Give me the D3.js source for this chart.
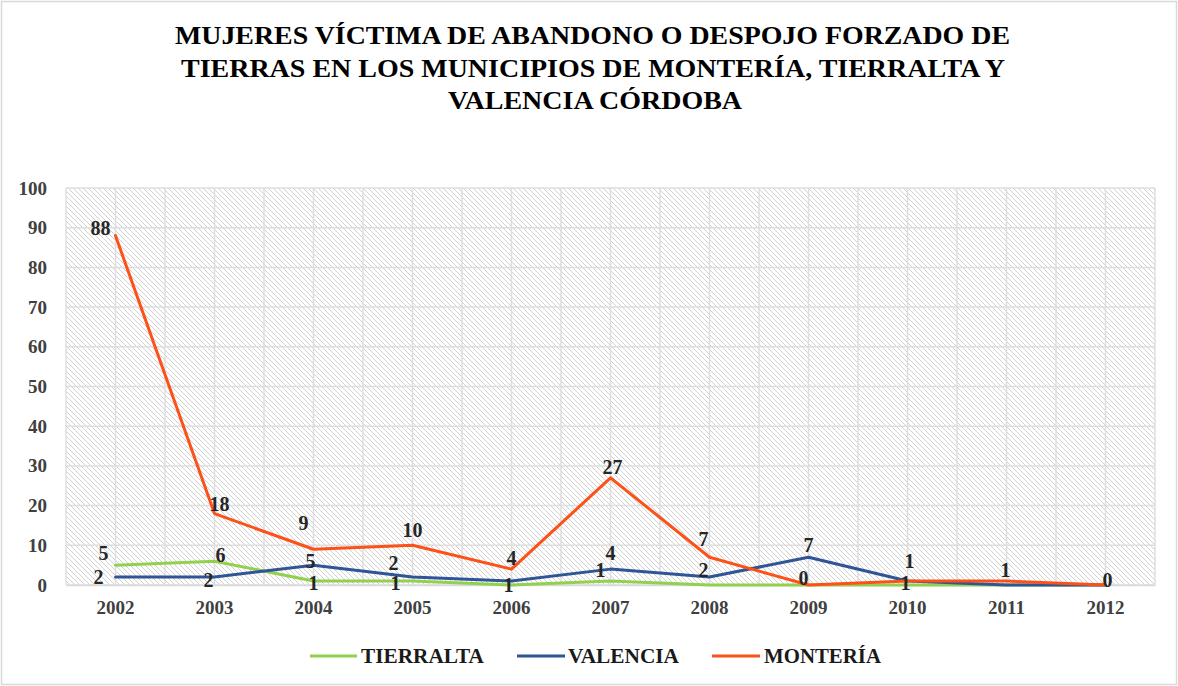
<!DOCTYPE html>
<html><head><meta charset="utf-8">
<script src="https://cdn.jsdelivr.net/npm/d3@7"></script>
<style>
html,body{margin:0;padding:0;background:#fff;}
svg{display:block;}
svg text{font-family:"Liberation Serif","Times New Roman",serif;font-weight:bold;}
</style></head>
<body>
<svg id="chart" width="1178" height="686"></svg>
<script>
const years = ["2002","2003","2004","2005","2006","2007","2008","2009","2010","2011","2012"];
const tierralta = [5, 6, 1, 1, 0, 1, 0, 0, 0, 0, 0];
const valencia  = [2, 2, 5, 2, 1, 4, 2, 7, 1, 0, 0];
const monteria  = [88, 18, 9, 10, 4, 27, 7, 0, 1, 1, 0];
const yTicks = [0,10,20,30,40,50,60,70,80,90,100];
const titleLines = ["MUJERES VÍCTIMA DE ABANDONO O DESPOJO FORZADO  DE",
                    "TIERRAS EN LOS MUNICIPIOS DE MONTERÍA, TIERRALTA Y",
                    "VALENCIA  CÓRDOBA"];
// data-label nudges in px relative to the point (null = no label shown)
const tierraltaLabelNudge = [[-12,-12],[6,-6],[0,2],[-17,2],null,[-10,-11],null,null,null,null,null];
const valenciaLabelNudge  = [[-17,0],[-6,3],[-3,-4],[-19,-14],[-3,4],[0,-16],[-6,-7],[0,-12],[-2,2],null,null];
const monteriaLabelNudge  = [[-15,-8],[5,-10],[-10,-26],[0,-15],[0,-11],[2,-11],[-6,-18],[-5,-7],[2,-20],[-1,-11],[2,-5]];

const series = [
  {name:"TIERRALTA", values:tierralta, nudge:tierraltaLabelNudge, color:"#92d050"},
  {name:"VALENCIA",  values:valencia,  nudge:valenciaLabelNudge,  color:"#2f5597"},
  {name:"MONTERÍA",  values:monteria,  nudge:monteriaLabelNudge,  color:"#fc5118"}
];

const svg = d3.select("#chart");
const W = 1178, H = 686;
const m = {left:66, right:1155, top:188, bottom:585};
const FONT = '"Liberation Serif","Times New Roman",serif';

svg.append("rect").attr("x",1.5).attr("y",1.5).attr("width",W-3).attr("height",H-3)
  .attr("fill","#fff").attr("stroke","#d9d9d9").attr("stroke-width",1.5);

// title
svg.append("g").selectAll("text").data(titleLines).join("text")
  .attr("x",(d,i)=>[592.5,593,595][i])
  .attr("y",(d,i)=>44 + i*32.5)
  .attr("text-anchor","middle")
  .attr("font-size",25)
  .attr("fill","#000")
  .attr("textLength",(d,i)=>[835,824,294][i])
  .attr("lengthAdjust","spacingAndGlyphs")
  .text(d=>d);

const x = d3.scaleBand().domain(years).range([m.left,m.right]);
const y = d3.scaleLinear().domain([0,100]).range([m.bottom,m.top]);
const cx = d => x(d) + x.bandwidth()/2;

// hatch pattern
const defs = svg.append("defs");
const pat = defs.append("pattern").attr("id","hatch").attr("patternUnits","userSpaceOnUse")
  .attr("width",5).attr("height",5);
pat.append("rect").attr("width",5).attr("height",5).attr("fill","#fff");
pat.append("path").attr("d","M-1,-1 L6,6 M-1,4 L1,6 M4,-1 L6,1")
  .attr("stroke","#cccccc").attr("stroke-width",0.9);

svg.append("rect").attr("x",m.left).attr("y",m.top)
  .attr("width",m.right-m.left).attr("height",m.bottom-m.top)
  .attr("fill","url(#hatch)");

// gridlines
const grid = svg.append("g").attr("stroke","#dedede").attr("stroke-width",1.5);
yTicks.forEach(t=>{
  grid.append("line").attr("x1",m.left).attr("x2",m.right).attr("y1",y(t)).attr("y2",y(t));
});
const vx = [];
years.forEach(yr=>{ vx.push(x(yr)); vx.push(cx(yr)); });
vx.push(m.right);
vx.forEach(v=>{
  grid.append("line").attr("x1",v).attr("x2",v).attr("y1",m.top).attr("y2",m.bottom);
});

// axes
const yAxis = d3.axisLeft(y).tickValues(yTicks).tickSize(0).tickPadding(19);
const gy = svg.append("g").attr("transform",`translate(${m.left},0)`).call(yAxis)
  .attr("font-family",FONT);
gy.select(".domain").remove();
gy.selectAll("text").attr("font-size",19).attr("fill","#404040");

const xAxis = d3.axisBottom(x).tickSize(0).tickPadding(16);
const gx = svg.append("g").attr("transform",`translate(0,${m.bottom})`).call(xAxis)
  .attr("font-family",FONT);
gx.select(".domain").attr("stroke","#d9d9d9").attr("stroke-width",1.5);
gx.selectAll("text").attr("font-size",19).attr("fill","#404040");

// lines
const line = d3.line().x((d,i)=>cx(years[i])).y(d=>y(d));
series.forEach(s=>{
  svg.append("path").datum(s.values).attr("d",line)
    .attr("fill","none").attr("stroke",s.color).attr("stroke-width",3)
    .attr("stroke-linejoin","round").attr("stroke-linecap","round");
});

// labels
series.forEach(s=>{
  svg.append("g").selectAll("text")
    .data(s.values.map((v,i)=>({v,i,n:s.nudge[i]})).filter(d=>d.n))
    .join("text")
    .attr("x",d=>cx(years[d.i]) + d.n[0])
    .attr("y",d=>y(d.v) + d.n[1])
    .attr("dy","0.35em")
    .attr("text-anchor","middle")
    .attr("font-size",20)
    .attr("fill","#262626")
    .text(d=>d.v);
});

// legend
const legend = [
  {s:series[0], x1:310, x2:357, tx:361, tl:123},
  {s:series[1], x1:517, x2:565, tx:568, tl:111},
  {s:series[2], x1:712, x2:760, tx:764, tl:117}
];
const lg = svg.append("g");
legend.forEach(l=>{
  lg.append("line").attr("x1",l.x1).attr("x2",l.x2).attr("y1",656).attr("y2",656)
    .attr("stroke",l.s.color).attr("stroke-width",3);
  lg.append("text").attr("x",l.tx).attr("y",656).attr("dy","0.35em")
    .attr("font-size",20).attr("fill","#1a1a1a")
    .attr("textLength",l.tl).attr("lengthAdjust","spacingAndGlyphs")
    .text(l.s.name);
});
</script>
</body></html>
